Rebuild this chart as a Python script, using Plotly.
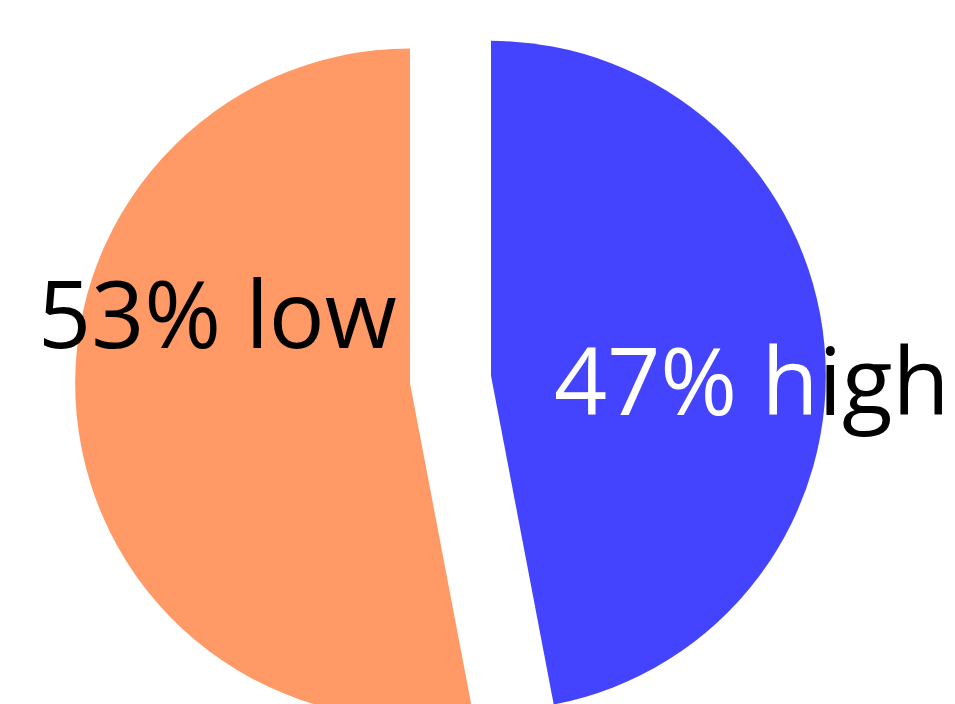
import plotly.graph_objects as go

labels = ["high", "low"]
values = [47, 53]
colors = ["#4444FF", "#FF9966"]
pulls = [0.1215, 0.1215]

# label anchor positions (paper coordinates)
label_x = [0.9008, 0.1891]
label_y = [0.5007, 0.5904]
label_font_size = 93

total = sum(values)

fig = go.Figure(go.Pie(
    labels=labels,
    values=values,
    textinfo="none",
    marker=dict(colors=colors, line=dict(width=0)),
    pull=pulls,
    sort=False,
    direction="clockwise",
    rotation=0,
    hoverinfo="label+percent",
))

for lab, v, x, y in zip(labels, values, label_x, label_y):
    pct = f"{round(100 * v / total)}%"
    if lab == "high":
        # inside the blue slice the text is white, outside it is black
        txt = f"<span style='color:white'>{pct} {lab[:1]}</span>{lab[1:]}"
    else:
        txt = f"{pct} {lab}"
    fig.add_annotation(
        x=x, y=y, xref="paper", yref="paper",
        xanchor="center", yanchor="middle",
        text=txt, showarrow=False,
        font=dict(family="Open Sans", size=label_font_size, color="black"),
    )

fig.update_layout(
    width=955,
    height=755,
    margin=dict(l=75, r=129, t=4, b=0),
    showlegend=False,
    paper_bgcolor="white",
)

fig.write_html("out.html", post_script="document.body.style.overflow='hidden';document.documentElement.style.overflow='hidden';")
